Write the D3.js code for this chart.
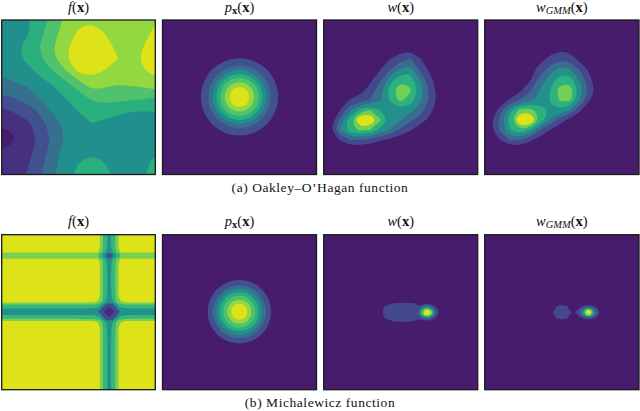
<!DOCTYPE html>
<html><head><meta charset="utf-8">
<script src="https://cdn.jsdelivr.net/npm/d3@7"></script>
<style>html,body{margin:0;padding:0;background:#fff}svg{display:block}</style>
</head><body><svg id="c" width="640" height="411"></svg>
<script>
// ---- data (axes are fractions of a panel, values are contour-level units) ----
const bandColors = ['#481c6c','#46307f','#41518f','#37708f','#21908c','#2aaf7f','#4fc26b','#93d741','#dde318'];
const weightColors = ['#481c6c','#43498c','#3a6c90','#24908c','#2db27d','#72cf55','#dde318'];
const ringColors = ['#41518f','#37708f','#21908c','#2aaf7f','#4fc26b','#93d741','#dde318'];
const michColors = ['#47287a','#3e4d8e','#21918c','#35b779','#7ad151','#dde318'];
const michThresholds = [3.6,5,6,7,8];
const fullThresholds = [1,2,3,4,5,6,7,8];
const weightThresholds = [1,2,3,4,5,6];

const oakleyFx = [0,.037,.1667,.25,.3333,.4167,.5,.5833,.6667,.75,.8333,.9167,1];
const oakleyFy = [0,.0833,.1667,.25,.3333,.4167,.5,.5833,.6667,.7666,.8333,.9167,1];
const oakleyF = [
[4.7,4.75,4.88,5.4,6.35,7.2,7.65,7.9,7.7,7.4,7.35,7.5,7.9],
[4.6,4.7,4.9,5.75,6.7,7.4,8.15,8.4,8.0,7.5,7.4,7.7,8.2],
[4.5,4.6,5.2,6.0,6.9,7.85,8.4,8.6,8.4,7.8,7.5,7.95,8.4],
[4.35,4.5,5.2,5.9,6.8,7.95,8.4,8.6,8.45,8.05,7.6,8.1,8.5],
[4.15,4.3,4.7,5.25,5.95,6.85,8.1,8.3,7.95,7.55,7.5,7.9,8.2],
[3.75,3.8,4.1,4.6,5.05,5.7,6.5,7.5,7.2,7.0,7.1,7.2,7.7],
[2.85,2.87,3.4,4.1,4.5,5.05,5.55,6.2,6.5,6.5,6.3,6.2,6.0],
[1.9,1.95,2.6,3.25,4.15,4.6,5.05,5.5,5.45,5.2,5.05,5.05,5.05],
[1.25,1.3,1.8,2.6,3.6,4.25,4.65,5.0,4.85,4.7,4.65,4.6,4.6],
[0.55,0.5,1.5,2.25,3.2,4.1,4.4,4.55,4.5,4.4,4.35,4.4,4.55],
[1.05,1.05,1.6,2.4,3.4,4.35,4.6,4.8,4.65,4.45,4.4,4.55,4.85],
[1.3,1.38,1.85,2.7,3.65,4.55,4.95,5.2,4.98,4.7,4.5,4.7,5.2],
[1.5,1.6,2.05,2.9,3.85,4.65,5.3,5.5,5.25,4.85,4.55,4.85,5.5]];

const oakleyRingCenter = [.5,.498];
const oakleyRingRadii = [.251,.203,.175,.149,.125,.095,.064];
const michRingCenter = [.499,.497];
const michRingRadii = [.206,.172,.149,.127,.104,.078,.052];

const oakleyWx = [.041,.106,.171,.236,.301,.366,.431,.496,.561,.625,.690,.755];
const oakleyWy = [.194,.259,.324,.388,.453,.518,.583,.647,.712,.777,.841];
const oakleyW = [
[0,0,0,0,0,0,0,.6,.85,.3,0,0],
[0,0,0,0,0,0,1.1,1.7,2.2,1.15,.3,0],
[0,0,0,0,0,1.0,2.05,3.2,3.6,1.95,.8,0],
[0,0,0,0,.75,1.75,3.6,4.7,4.7,3.0,1.4,0],
[0,0,0,.6,1.4,2.6,4.4,5.9,5.15,3.5,1.75,.4],
[0,0,1.1,1.5,2.0,2.9,4.1,5.3,4.6,3.3,1.8,.5],
[0,1.0,2.7,4.2,5.0,4.0,3.5,3.6,3.35,2.5,1.4,0],
[0,2.3,4.6,7.5,7.5,5.2,3.7,3.05,2.2,1.5,.7,0],
[.8,3.0,4.6,5.2,5.0,3.7,2.9,1.85,1.1,.4,0,0],
[0,1.05,2.0,1.95,1.6,1.1,.7,.3,0,0,0,0],
[0,0,.05,.05,0,0,0,0,0,0,0,0]];

const oakleyGx = [.034,.099,.164,.229,.293,.358,.423,.488,.553,.617,.682,.747];
const oakleyGy = oakleyWy;
const oakleyG = [
[0,0,0,0,0,0,.6,.85,.75,.2,0,0],
[0,0,0,0,0,.7,1.4,1.95,1.7,.75,0,0],
[0,0,0,0,.55,1.45,2.55,3.5,3.2,1.9,.8,0],
[0,0,0,0,.85,2.4,3.55,4.5,4.6,2.9,1.2,0],
[0,0,0,.75,1.85,3.0,3.97,5.5,5.6,3.5,1.7,.3],
[0,0,1.2,2.05,2.75,3.4,4.05,5.15,5.3,3.0,1.0,0],
[0,1.5,3.6,5.3,5.4,4.6,3.9,3.9,2.95,1.2,0,0],
[.6,2.3,4.6,7.5,7.8,4.9,2.9,1.5,.6,0,0,0],
[.6,2.2,3.95,4.95,3.95,2.05,1.0,.3,0,0,0,0],
[0,.95,2.05,2.1,1.2,.5,0,0,0,0,0,0],
[0,0,0,0,0,0,0,0,0,0,0,0]];

const michFx = [0,.589,.609,.625,.638,.654,.677,.70,.723,.746,.762,.775,.791,.811,1];
const michFxDepth = [-.25,-.25,-.12,0,.2,1,2,2.5,2,1,.2,0,-.12,-.25,-.25];
const michFy = [0,.08,.100,.114,.119,.135,.151,.156,.170,.19,.387,.410,.428,.437,.445,.469,.497,.525,.549,.557,.566,.584,.607,1];
const michFyDepth = [-.25,-.25,-.12,0,.85,.98,.85,0,-.12,-.25,-.25,-.12,0,.2,1,2,2.98,2,1,.2,0,-.12,-.25,-.25];

const michWx = [.366,.398,.463,.528,.593,.614,.636,.658,.679,.701,.723,.744,.766];
const michWy = [.421,.443,.464,.486,.501,.518,.540,.561,.583];
const michW = [
[0,0,0,0,0,0,0,0,0,0,0,0,0],
[0,.8,1.05,1.1,1.02,.3,.5,.8,.8,.5,.1,0,0],
[0,1.1,1.3,1.3,1.3,1.1,1.7,2.9,2.9,1.8,1.1,.3,0],
[.6,1.3,1.4,1.4,1.3,1.8,4.0,6.2,6.5,4.4,2.0,1.0,0],
[.6,1.3,1.4,1.4,1.3,2.0,4.9,7.2,7.8,5.8,2.6,1.0,0],
[.6,1.3,1.4,1.4,1.3,1.8,3.9,6.2,6.5,4.5,2,.9,0],
[.1,1.05,1.3,1.3,1.3,1.1,1.5,2.3,2.4,1.6,.9,.2,0],
[0,.4,1.05,1.05,.95,.1,.2,.3,.3,.2,0,0,0],
[0,0,0,0,0,0,0,0,0,0,0,0,0]];

const michGx = [.423,.445,.466,.499,.531,.564,.579,.596,.618,.639,.661,.682,.704,.726,.747,.769];
const michGy = [.432,.449,.466,.484,.501,.518,.535,.552,.570];
const michG = [
[0,0,0,0,0,0,0,0,0,0,0,0,0,0,0,0],
[0,0,.2,.85,.5,0,0,0,0,.35,.6,.6,.3,0,0,0],
[0,0,1.25,1.5,1.4,.2,0,.15,.9,1.3,1.9,1.9,1.5,.8,0,0],
[0,.8,1.3,1.5,1.4,.6,.3,.75,1.5,2.9,5.6,5.8,3,1.5,.4,0],
[0,1.1,1.4,1.55,1.45,1.0,.98,1.3,2.2,4.1,7.2,7.6,4.3,1.9,.9,0],
[0,.8,1.3,1.5,1.4,.6,.3,.75,1.5,2.9,5.6,5.8,3,1.5,.4,0],
[0,0,1.2,1.45,1.35,.2,0,.15,.9,1.3,1.9,1.9,1.5,.8,0,0],
[0,0,.3,.8,.6,0,0,0,0,.2,.5,.5,.2,0,0,0],
[0,0,0,0,0,0,0,0,0,0,0,0,0,0,0,0]];

const captions = ["(a) Oakley–O’Hagan function", "(b) Michalewicz function"];

// ---- layout ----
const columnEdges = [[1.7,155.3],[162.5,316.5],[323.7,477.7],[484.7,639]];
const rowEdges = [[20,174.5],[234.7,389.7]];
const titleBaselines = [11.5,225.5];
const captionBaselines = [192,407];
const FONT = '"Liberation Serif","DejaVu Serif",serif';

const svg = d3.select('#c');
const defs = svg.append('defs');
let clipN = 0;
const ringLine = d3.line().curve(d3.curveBasisClosed);

function panelFrame(col,row){
  const sx = d3.scaleLinear([0,1],columnEdges[col]);
  const sy = d3.scaleLinear([0,1],rowEdges[row]);
  const id = 'clip'+(clipN++);
  defs.append('clipPath').attr('id',id).append('rect')
    .attr('x',sx(0)).attr('y',sy(0)).attr('width',sx(1)-sx(0)).attr('height',sy(1)-sy(0));
  const g = svg.append('g');
  const inner = g.append('g').attr('clip-path',`url(#${id})`);
  return {sx,sy,g,inner};
}
function finish(p){
  p.g.append('rect').attr('x',p.sx(0)).attr('y',p.sy(0))
    .attr('width',p.sx(1)-p.sx(0)).attr('height',p.sy(1)-p.sy(0))
    .attr('fill','none').attr('stroke','#1a1a1a').attr('stroke-width',1.3);
}
function background(p,color){
  p.inner.append('rect').attr('x',p.sx(0)).attr('y',p.sy(0))
    .attr('width',p.sx(1)-p.sx(0)).attr('height',p.sy(1)-p.sy(0)).attr('fill',color);
}
function field(p,xs,ys,rows,thresholds,colors){
  const n=xs.length,m=ys.length;
  const flat=[];
  for(let j=-1;j<=m;j++)for(let i=-1;i<=n;i++){
    flat.push(rows[Math.max(0,Math.min(m-1,j))][Math.max(0,Math.min(n-1,i))]);
  }
  const ext=a=>[a[0]-(a[1]-a[0]),...a,a[a.length-1]+(a[a.length-1]-a[a.length-2])];
  const ix=d3.scaleLinear(d3.range(n+2).map(d=>d+.5),ext(xs));
  const iy=d3.scaleLinear(d3.range(m+2).map(d=>d+.5),ext(ys));
  const gen=d3.contours().size([n+2,m+2]).thresholds(thresholds);
  background(p,colors[0]);
  gen(flat).forEach((c,k)=>{
    let path='';
    c.coordinates.forEach(poly=>poly.forEach(ring=>{
      const pts=ring.slice(0,-1).map(q=>[p.sx(ix(q[0])),p.sy(iy(q[1]))]);
      path+=ringLine(pts);
    }));
    p.inner.append('path').attr('d',path).attr('fill',colors[k+1]).attr('fill-rule','evenodd');
  });
}
function rings(p,center,radii,colors){
  background(p,bandColors[0]);
  const rs=d3.scaleLinear([0,1],[0,p.sx(1)-p.sx(0)]);
  p.inner.selectAll('circle').data(radii).join('circle')
    .attr('cx',p.sx(center[0])).attr('cy',p.sy(center[1]))
    .attr('r',d=>rs(d)).attr('fill',(d,i)=>colors[i]);
}
function title(col,row,kind){
  const t=svg.append('text').attr('x',d3.mean(columnEdges[col])).attr('y',titleBaselines[row])
    .attr('text-anchor','middle').attr('font-family',FONT).attr('font-size',14.5).attr('fill','#111');
  const sub=(s,italic,bold)=>t.append('tspan').text(s).attr('dy',2.5).attr('font-size',10.5)
    .attr('font-style',italic?'italic':null).attr('font-weight',bold?'bold':null);
  const main=(s,o={})=>{const e=t.append('tspan').text(s);
    if(o.i)e.attr('font-style','italic'); if(o.b)e.attr('font-weight','bold'); if(o.dy)e.attr('dy',o.dy); return e;};
  if(kind==='f'){main('f',{i:1});main('(');}
  if(kind==='p'){main('p',{i:1});sub('x',0,1);main('(',{dy:-2.5});}
  if(kind==='w'){main('w',{i:1});main('(');}
  if(kind==='g'){main('w',{i:1});sub('GMM',1,0);main('(',{dy:-2.5});}
  main('x',{b:1});main(')');
}
function caption(i){
  svg.append('text').attr('x',320).attr('y',captionBaselines[i]).attr('text-anchor','middle')
    .attr('font-family',FONT).attr('font-size',13.5).attr('letter-spacing',.55).attr('fill','#111').text(captions[i]);
}

// ---- draw ----
let p;
p=panelFrame(0,0); field(p,oakleyFx,oakleyFy,oakleyF,fullThresholds,bandColors); finish(p);
p=panelFrame(1,0); rings(p,oakleyRingCenter,oakleyRingRadii,ringColors); finish(p);
p=panelFrame(2,0); field(p,oakleyWx,oakleyWy,oakleyW,weightThresholds,weightColors); finish(p);
p=panelFrame(3,0); field(p,oakleyGx,oakleyGy,oakleyG,weightThresholds,weightColors); finish(p);

const michF=michFyDepth.map(dy=>michFxDepth.map(dx=>8-dx-dy));
p=panelFrame(0,1); field(p,michFx,michFy,michF,michThresholds,michColors); finish(p);
p=panelFrame(1,1); rings(p,michRingCenter,michRingRadii,ringColors); finish(p);
p=panelFrame(2,1); field(p,michWx,michWy,michW,weightThresholds,weightColors); finish(p);
p=panelFrame(3,1); field(p,michGx,michGy,michG,weightThresholds,weightColors); finish(p);

[0,1].forEach(r=>{['f','p','w','g'].forEach((k,c)=>title(c,r,k));caption(r);});
</script></body></html>
